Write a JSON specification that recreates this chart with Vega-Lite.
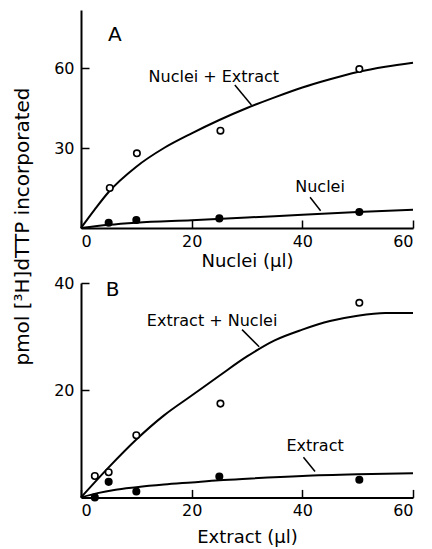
{
  "$schema": "https://vega.github.io/schema/vega-lite/v6.json",
  "padding": {"left": 12, "top": 10, "right": 5, "bottom": 5},
  "bounds": "flush",
  "spacing": 55,
  "config": {
    "view": {"stroke": null},
    "font": "DejaVu Sans",
    "axis": {
      "grid": false,
      "domainColor": "black",
      "domainWidth": 2,
      "tickColor": "black",
      "tickWidth": 1.5,
      "tickSize": -8,
      "labelColor": "black",
      "labelFont": "DejaVu Sans",
      "labelFontSize": 16,
      "titleColor": "black",
      "titleFont": "DejaVu Sans",
      "titleFontSize": 18,
      "titleFontWeight": "normal"
    }
  },
  "datasets": {
    "curvesA": [
      {"series": "Nuclei + Extract", "x": 0, "y": 0},
      {"series": "Nuclei + Extract", "x": 2.5, "y": 7},
      {"series": "Nuclei + Extract", "x": 5, "y": 13.5},
      {"series": "Nuclei + Extract", "x": 10, "y": 23},
      {"series": "Nuclei + Extract", "x": 15, "y": 30},
      {"series": "Nuclei + Extract", "x": 20, "y": 35.5},
      {"series": "Nuclei + Extract", "x": 25, "y": 40.5},
      {"series": "Nuclei + Extract", "x": 30, "y": 45},
      {"series": "Nuclei + Extract", "x": 35, "y": 49},
      {"series": "Nuclei + Extract", "x": 40, "y": 52.7},
      {"series": "Nuclei + Extract", "x": 45, "y": 55.8},
      {"series": "Nuclei + Extract", "x": 50, "y": 58.5},
      {"series": "Nuclei + Extract", "x": 55, "y": 60.5},
      {"series": "Nuclei + Extract", "x": 60, "y": 62},
      {"series": "Nuclei", "x": 0, "y": 0},
      {"series": "Nuclei", "x": 5, "y": 1.2},
      {"series": "Nuclei", "x": 10, "y": 2},
      {"series": "Nuclei", "x": 20, "y": 2.9},
      {"series": "Nuclei", "x": 30, "y": 3.9},
      {"series": "Nuclei", "x": 40, "y": 5},
      {"series": "Nuclei", "x": 50, "y": 6},
      {"series": "Nuclei", "x": 60, "y": 6.8}
    ],
    "pointsA": [
      {"series": "Nuclei + Extract", "x": 5.2, "y": 15, "filled": "no"},
      {"series": "Nuclei + Extract", "x": 10.1, "y": 28, "filled": "no"},
      {"series": "Nuclei + Extract", "x": 25.2, "y": 36.5, "filled": "no"},
      {"series": "Nuclei + Extract", "x": 50.3, "y": 59.6, "filled": "no"},
      {"series": "Nuclei", "x": 5, "y": 2, "filled": "yes"},
      {"series": "Nuclei", "x": 10, "y": 3, "filled": "yes"},
      {"series": "Nuclei", "x": 25, "y": 3.6, "filled": "yes"},
      {"series": "Nuclei", "x": 50.3, "y": 6, "filled": "yes"}
    ],
    "labelsA": [
      {"text": "A", "x": 6.1, "y": 72.4, "big": "yes"},
      {"text": "Nuclei + Extract", "x": 24, "y": 56.6, "big": "no"},
      {"text": "Nuclei", "x": 43.2, "y": 15.5, "big": "no"}
    ],
    "pointersA": [
      {"x": 27.8, "y": 53.6, "x2": 30.8, "y2": 46.1},
      {"x": 41.4, "y": 11.5, "x2": 43.3, "y2": 6.5}
    ],
    "curvesB": [
      {"series": "Extract + Nuclei", "x": 0, "y": 0},
      {"series": "Extract + Nuclei", "x": 5, "y": 5.6},
      {"series": "Extract + Nuclei", "x": 10, "y": 10.8},
      {"series": "Extract + Nuclei", "x": 15, "y": 15.3},
      {"series": "Extract + Nuclei", "x": 20, "y": 19},
      {"series": "Extract + Nuclei", "x": 25, "y": 22.7},
      {"series": "Extract + Nuclei", "x": 30, "y": 26.3},
      {"series": "Extract + Nuclei", "x": 35, "y": 29.3},
      {"series": "Extract + Nuclei", "x": 40, "y": 31.3},
      {"series": "Extract + Nuclei", "x": 45, "y": 32.9},
      {"series": "Extract + Nuclei", "x": 50, "y": 33.9},
      {"series": "Extract + Nuclei", "x": 55, "y": 34.4},
      {"series": "Extract + Nuclei", "x": 60, "y": 34.4},
      {"series": "Extract", "x": 0, "y": 0},
      {"series": "Extract", "x": 3, "y": 0.8},
      {"series": "Extract", "x": 6, "y": 1.4},
      {"series": "Extract", "x": 10, "y": 1.9},
      {"series": "Extract", "x": 15, "y": 2.4},
      {"series": "Extract", "x": 20, "y": 2.8},
      {"series": "Extract", "x": 25, "y": 3.2},
      {"series": "Extract", "x": 30, "y": 3.5},
      {"series": "Extract", "x": 40, "y": 4.0},
      {"series": "Extract", "x": 50, "y": 4.3},
      {"series": "Extract", "x": 60, "y": 4.5}
    ],
    "pointsB": [
      {"series": "Extract + Nuclei", "x": 2.5, "y": 4, "filled": "no"},
      {"series": "Extract + Nuclei", "x": 5, "y": 4.7, "filled": "no"},
      {"series": "Extract + Nuclei", "x": 10, "y": 11.6, "filled": "no"},
      {"series": "Extract + Nuclei", "x": 25.2, "y": 17.5, "filled": "no"},
      {"series": "Extract + Nuclei", "x": 50.3, "y": 36.3, "filled": "no"},
      {"series": "Extract", "x": 2.5, "y": 0, "filled": "yes"},
      {"series": "Extract", "x": 5, "y": 2.9, "filled": "yes"},
      {"series": "Extract", "x": 10, "y": 1.1, "filled": "yes"},
      {"series": "Extract", "x": 25, "y": 3.9, "filled": "yes"},
      {"series": "Extract", "x": 50.3, "y": 3.3, "filled": "yes"}
    ],
    "labelsB": [
      {"text": "B", "x": 5.7, "y": 38.7, "big": "yes"},
      {"text": "Extract + Nuclei", "x": 23.7, "y": 33, "big": "no"},
      {"text": "Extract", "x": 42.3, "y": 9.6, "big": "no"}
    ],
    "pointersB": [
      {"x": 29.1, "y": 31.3, "x2": 32.2, "y2": 28.1},
      {"x": 40.2, "y": 7.5, "x2": 42.3, "y2": 4.85}
    ]
  },
  "vconcat": [
    {
      "width": 332,
      "height": 218,
      "encoding": {
        "x": {"field": "x", "type": "quantitative",
          "scale": {"domain": [0, 60], "nice": false},
          "axis": {"values": [0, 20, 40, 60], "title": "Nuclei (μl)", "labelPadding": 13, "titlePadding": 3}},
        "y": {"field": "y", "type": "quantitative",
          "scale": {"domain": [0, 81.75], "nice": false},
          "axis": {"values": [30, 60], "title": "pmol  [³H]dTTP incorporated", "titleFontSize": 20,
            "titleX": -59, "titleY": 216, "titleAlign": "center", "titleBaseline": "middle", "titleAngle": -90, "labelPadding": 15}}
      },
      "layer": [
        {"data": {"name": "curvesA"}, "mark": {"type": "line", "color": "black", "strokeWidth": 2, "interpolate": "monotone"},
          "encoding": {"detail": {"field": "series"}}},
        {"data": {"name": "pointersA"}, "mark": {"type": "rule", "color": "black", "strokeWidth": 1.5},
          "encoding": {"x2": {"field": "x2"}, "y2": {"field": "y2"}}},
        {"data": {"name": "pointsA"}, "mark": {"type": "point", "shape": "circle", "size": 42, "strokeWidth": 1.6, "color": "black", "opacity": 1},
          "encoding": {"fill": {"field": "filled", "type": "nominal", "scale": {"domain": ["no", "yes"], "range": ["white", "black"]}, "legend": null}}},
        {"data": {"name": "labelsA"}, "mark": {"type": "text", "color": "black", "align": "center", "baseline": "middle", "font": "DejaVu Sans"},
          "encoding": {"text": {"field": "text"},
            "size": {"field": "big", "type": "nominal", "scale": {"domain": ["no", "yes"], "range": [16, 20]}, "legend": null}}}
      ]
    },
    {
      "width": 332,
      "height": 214.4,
      "encoding": {
        "x": {"field": "x", "type": "quantitative",
          "scale": {"domain": [0, 60], "nice": false},
          "axis": {"values": [0, 20, 40, 60], "title": "Extract (μl)", "labelPadding": 13, "titlePadding": 10}},
        "y": {"field": "y", "type": "quantitative",
          "scale": {"domain": [0, 40], "nice": false},
          "axis": {"values": [20, 40], "title": null, "labelPadding": 15}}
      },
      "layer": [
        {"data": {"name": "curvesB"}, "mark": {"type": "line", "color": "black", "strokeWidth": 2, "interpolate": "monotone"},
          "encoding": {"detail": {"field": "series"}}},
        {"data": {"name": "pointersB"}, "mark": {"type": "rule", "color": "black", "strokeWidth": 1.5},
          "encoding": {"x2": {"field": "x2"}, "y2": {"field": "y2"}}},
        {"data": {"name": "pointsB"}, "mark": {"type": "point", "shape": "circle", "size": 42, "strokeWidth": 1.6, "color": "black", "opacity": 1},
          "encoding": {"fill": {"field": "filled", "type": "nominal", "scale": {"domain": ["no", "yes"], "range": ["white", "black"]}, "legend": null}}},
        {"data": {"name": "labelsB"}, "mark": {"type": "text", "color": "black", "align": "center", "baseline": "middle", "font": "DejaVu Sans"},
          "encoding": {"text": {"field": "text"},
            "size": {"field": "big", "type": "nominal", "scale": {"domain": ["no", "yes"], "range": [16, 20]}, "legend": null}}}
      ]
    }
  ]
}
